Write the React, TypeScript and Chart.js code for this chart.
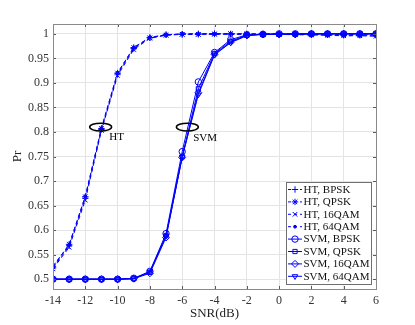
import React, { useEffect, useRef } from 'react';
import { Chart, registerables } from 'chart.js';
import { drawPoint } from 'chart.js/helpers';

Chart.register(...registerables);

// ---- data ----
const snr = [-14, -13, -12, -11, -10, -9, -8, -7, -6, -5, -4, -3, -2, -1, 0, 1, 2, 3, 4, 5, 6];

const htBpsk = [0.523, 0.568, 0.665, 0.805, 0.918, 0.970, 0.992, 0.998, 0.999, 1.0, 1.0, 0.999, 0.999, 0.999, 0.999, 0.999, 0.998, 0.998, 0.997, 0.997, 0.997];
const htQpsk = [0.525, 0.571, 0.668, 0.807, 0.920, 0.972, 0.992, 0.998, 0.999, 0.999, 1.0, 1.0, 1.0, 0.999, 0.999, 0.999, 0.999, 0.998, 0.998, 0.998, 0.998];
const ht16qam = [0.521, 0.565, 0.661, 0.803, 0.915, 0.968, 0.991, 0.997, 0.999, 0.999, 0.999, 1.0, 0.999, 0.999, 0.999, 0.998, 0.998, 0.997, 0.996, 0.996, 0.995];
const ht64qam = [0.527, 0.570, 0.669, 0.808, 0.921, 0.972, 0.993, 0.998, 1.0, 1.0, 1.0, 1.0, 1.0, 1.0, 1.0, 1.0, 1.0, 1.0, 1.0, 1.0, 1.0];

const svmBpsk = [0.5, 0.5, 0.5, 0.5, 0.5, 0.502, 0.516, 0.593, 0.760, 0.902, 0.962, 0.988, 0.998, 0.999, 1.0, 1.0, 1.0, 1.0, 1.0, 1.0, 1.0];
const svmQpsk = [0.5, 0.5, 0.5, 0.5, 0.5, 0.501, 0.514, 0.589, 0.750, 0.888, 0.960, 0.985, 0.997, 0.999, 0.999, 1.0, 1.0, 1.0, 1.0, 1.0, 1.0];
const svm16qam = [0.5, 0.5, 0.5, 0.5, 0.5, 0.501, 0.512, 0.585, 0.748, 0.880, 0.958, 0.983, 0.997, 0.999, 0.999, 0.999, 1.0, 1.0, 1.0, 1.0, 1.0];
const svm64qam = [0.5, 0.5, 0.5, 0.5, 0.5, 0.501, 0.515, 0.588, 0.749, 0.876, 0.957, 0.982, 0.996, 0.999, 0.999, 0.999, 1.0, 1.0, 1.0, 1.0, 1.0];

const seriesLabels = ['HT, BPSK', 'HT, QPSK', 'HT, 16QAM', 'HT, 64QAM', 'SVM, BPSK', 'SVM, QPSK', 'SVM, 16QAM', 'SVM, 64QAM'];
const seriesValues = [htBpsk, htQpsk, ht16qam, ht64qam, svmBpsk, svmQpsk, svm16qam, svm64qam];
const seriesMarkers = ['cross', 'star', 'crossRot', 'dot', 'circle', 'rect', 'rectRot', 'triangleDown'];

const xTicks = [-14, -12, -10, -8, -6, -4, -2, 0, 2, 4, 6];
const yTicks = [0.5, 0.55, 0.6, 0.65, 0.7, 0.75, 0.8, 0.85, 0.9, 0.95, 1];

// annotations (data coordinates)
const annotations = [
  { label: 'HT', cx: -11.05, cy: 0.81, rx: 0.68, ry: 0.008, tx: -10.52, ty: 0.789 },
  { label: 'SVM', cx: -5.68, cy: 0.81, rx: 0.68, ry: 0.008, tx: -5.32, ty: 0.787 },
];

const BLUE = '#0000ff';
const SERIF = '"Liberation Serif", "Times New Roman", serif';

function markerOptions(m: string) {
  if (m === 'dot') return { pointStyle: 'circle', radius: 1.4, rotation: 0, fill: true };
  if (m === 'triangleDown') return { pointStyle: 'triangle', radius: 3.2, rotation: 180, fill: false };
  if (m === 'star') return { pointStyle: 'star', radius: 3.2, rotation: 0, fill: false };
  if (m === 'rectRot') return { pointStyle: 'rectRot', radius: 3.5, rotation: 0, fill: false };
  if (m === 'rect') return { pointStyle: 'rect', radius: 3.0, rotation: 0, fill: false };
  return { pointStyle: m, radius: 3.2, rotation: 0, fill: false };
}

const boxPlugin = {
  id: 'boxAndTicks',
  afterDraw(chart: any) {
    const { ctx, chartArea } = chart;
    const xs = chart.scales.x;
    const ys = chart.scales.y;
    ctx.save();
    ctx.strokeStyle = '#5a5a5a';
    ctx.lineWidth = 1;
    ctx.beginPath();
    const tl = 3;
    for (const v of xTicks) {
      const px = Math.round(xs.getPixelForValue(v)) + 0.5;
      ctx.moveTo(px, chartArea.bottom);
      ctx.lineTo(px, chartArea.bottom - tl);
      ctx.moveTo(px, chartArea.top);
      ctx.lineTo(px, chartArea.top + tl);
    }
    for (const v of yTicks) {
      const py = Math.round(ys.getPixelForValue(v)) + 0.5;
      ctx.moveTo(chartArea.left, py);
      ctx.lineTo(chartArea.left + tl, py);
      ctx.moveTo(chartArea.right, py);
      ctx.lineTo(chartArea.right - tl, py);
    }
    ctx.stroke();
    ctx.strokeStyle = '#8a8a8a';
    ctx.strokeRect(
      Math.round(chartArea.left) + 0.5,
      Math.round(chartArea.top) + 0.5,
      Math.round(chartArea.right - chartArea.left),
      Math.round(chartArea.bottom - chartArea.top)
    );

    // legend
    const lx = 286.5, ly = 182.5, lw = 85, lh = 102;
    ctx.fillStyle = '#ffffff';
    ctx.fillRect(lx, ly, lw, lh);
    ctx.strokeStyle = '#707070';
    ctx.lineWidth = 1;
    ctx.strokeRect(lx, ly, lw, lh);
    ctx.font = `11px ${SERIF}`;
    ctx.textBaseline = 'middle';
    ctx.textAlign = 'left';
    const rowH = 12.4;
    seriesLabels.forEach((label, i) => {
      const y = ly + 7 + i * rowH;
      const isHT = i < 4;
      ctx.save();
      ctx.strokeStyle = BLUE;
      ctx.lineWidth = 1;
      ctx.setLineDash(isHT ? [3, 3] : []);
      ctx.beginPath();
      ctx.moveTo(lx + 1.5, y);
      ctx.lineTo(lx + 15.5, y);
      ctx.stroke();
      ctx.setLineDash([]);
      const mo = markerOptions(seriesMarkers[i]);
      ctx.fillStyle = mo.fill ? BLUE : 'rgba(0,0,0,0)';
      ctx.strokeStyle = BLUE;
      drawPoint(ctx, { pointStyle: mo.pointStyle as any, rotation: mo.rotation, radius: mo.radius, borderWidth: 1 }, lx + 8.5, y);
      ctx.restore();
      ctx.fillStyle = '#111';
      ctx.fillText(label, lx + 17, y + 0.5);
    });
    ctx.restore();
  },
  afterDatasetsDraw(chart: any) {
    const { ctx } = chart;
    const xs = chart.scales.x;
    const ys = chart.scales.y;
    ctx.save();
    for (const a of annotations) {
      const cx = xs.getPixelForValue(a.cx);
      const cy = ys.getPixelForValue(a.cy);
      const rx = Math.abs(xs.getPixelForValue(a.cx + a.rx) - cx);
      const ry = Math.abs(ys.getPixelForValue(a.cy + a.ry) - cy);
      ctx.beginPath();
      ctx.ellipse(cx, cy, rx, ry, 0, 0, Math.PI * 2);
      ctx.strokeStyle = '#000';
      ctx.lineWidth = 1.5;
      ctx.stroke();
      ctx.fillStyle = '#000';
      ctx.font = `11px ${SERIF}`;
      ctx.textAlign = 'left';
      ctx.textBaseline = 'middle';
      ctx.fillText(a.label, xs.getPixelForValue(a.tx), ys.getPixelForValue(a.ty));
    }
    ctx.restore();
  },
};

export default function App() {
  const ref = useRef<HTMLCanvasElement | null>(null);
  useEffect(() => {
    if (!ref.current) return;
    const datasets = seriesValues.map((vals, i) => {
      const mo = markerOptions(seriesMarkers[i]);
      const isHT = i < 4;
      return {
        label: seriesLabels[i],
        data: snr.map((x, j) => ({ x, y: vals[j] })),
        borderColor: BLUE,
        backgroundColor: BLUE,
        borderWidth: 1,
        borderDash: isHT ? [4, 3] : [],
        pointStyle: mo.pointStyle as any,
        pointRotation: mo.rotation,
        pointRadius: mo.radius,
        pointBorderWidth: 1,
        pointBorderColor: BLUE,
        pointBackgroundColor: mo.fill ? BLUE : 'rgba(0,0,0,0)',
        fill: false,
        tension: 0,
      };
    });
    const chart = new Chart(ref.current, {
      type: 'line',
      data: { datasets },
      options: {
        animation: false,
        responsive: true,
        maintainAspectRatio: false,
        layout: { padding: { left: 0, top: 24, right: 39, bottom: 0 } },
        plugins: { legend: { display: false }, tooltip: { enabled: false } },
        scales: {
          x: {
            type: 'linear',
            min: -14,
            max: 6,
            afterBuildTicks: (s: any) => { s.ticks = xTicks.map((v) => ({ value: v })); },
            afterFit: (s: any) => { s.height = 36; },
            grid: { color: '#e4e4e4', drawTicks: false },
            border: { display: false },
            ticks: { padding: 5, color: '#333', font: { family: SERIF, size: 12 }, maxRotation: 0, callback: (v: any) => String(v) },
            title: { display: true, text: 'SNR(dB)', color: '#222', font: { family: SERIF, size: 13 }, padding: { top: 0, bottom: 4 } },
          },
          y: {
            type: 'linear',
            min: 0.48,
            max: 1.02,
            afterBuildTicks: (s: any) => { s.ticks = yTicks.map((v) => ({ value: v })); },
            afterFit: (s: any) => { s.width = 53; },
            grid: { color: '#e4e4e4', drawTicks: false },
            border: { display: false },
            ticks: { padding: 4, color: '#333', font: { family: SERIF, size: 12 }, callback: (v: any) => String(Number(Number(v).toFixed(2))) },
            title: { display: true, text: 'Pr', color: '#222', font: { family: SERIF, size: 13 }, padding: { top: 10, bottom: 0 } },
          },
        },
      },
      plugins: [boxPlugin],
    } as any);
    return () => chart.destroy();
  }, []);
  return (
    <div style={{ position: 'fixed', left: 0, top: 0, width: 415, height: 325, background: '#fff' }}>
      <canvas ref={ref} />
    </div>
  );
}
